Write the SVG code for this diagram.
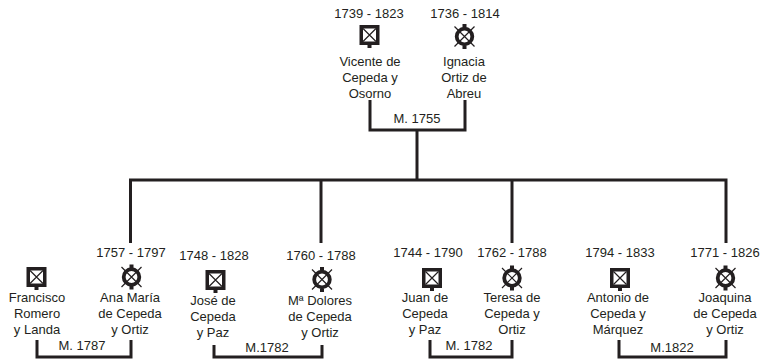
<svg xmlns="http://www.w3.org/2000/svg" xmlns:xlink="http://www.w3.org/1999/xlink" width="761" height="359" viewBox="0 0 761 359">
<style>
text{font-family:"Liberation Sans",Arial,sans-serif;font-size:13px;fill:#231f20;text-anchor:middle}
.ln{fill:none;stroke:#231f20;stroke-width:3;stroke-linejoin:miter}
.sh{fill:#fff;stroke:#231f20;stroke-width:3.5}
.ring{fill:none;stroke:#231f20;stroke-width:3.8}
.x{stroke:#231f20;stroke-width:1.2}
.tab{fill:#231f20}
</style>
<defs>
<g id="male">
<rect class="sh" x="-8.25" y="-8.25" width="16.5" height="16.5"/>
<path class="x" d="M-6.5,-6.5 L6.5,6.5 M6.5,-6.5 L-6.5,6.5"/>
<rect class="tab" x="-2" y="9.5" width="4" height="3.5"/>
</g>
<g id="female">
<path class="x" d="M-10,-10 L10,10 M10,-10 L-10,10"/>
<circle class="ring" r="7.8"/>
<rect class="tab" x="-2" y="-12.5" width="4" height="3.5"/>
<rect class="tab" x="-2" y="9" width="4" height="3.5"/>
</g>
</defs>
<rect width="761" height="359" fill="#fff"/>
<g id="connectors">
<path class="ln" d="M370,100 V130 H465 V100"/>
<path class="ln" d="M417,130 V180"/>
<path class="ln" d="M130.5,243 V180 H726 V243"/>
<path class="ln" d="M321,180 V243"/>
<path class="ln" d="M512,180 V243"/>
<path class="ln" d="M37,340 V357 H131 V340"/>
<path class="ln" d="M214,345 V357 H322 V345"/>
<path class="ln" d="M430,340 V357 H512 V340"/>
<path class="ln" d="M619,340 V357 H726 V340"/>
<text x="417" y="123">M. 1755</text>
<text x="82" y="350">M. 1787</text>
<text x="267" y="352">M.1782</text>
<text x="469" y="350">M. 1782</text>
<text x="672" y="352">M.1822</text>
</g>
<g id="vicente">
<text x="369" y="18">1739 - 1823</text>
<use xlink:href="#male" x="369.5" y="35"/>
<text x="370" y="66">Vicente de</text>
<text x="370" y="82">Cepeda y</text>
<text x="370" y="98">Osorno</text>
</g>
<g id="ignacia">
<text x="465" y="18">1736 - 1814</text>
<use xlink:href="#female" x="464.5" y="36.5"/>
<text x="464" y="66">Ignacia</text>
<text x="464" y="82">Ortiz de</text>
<text x="464" y="98">Abreu</text>
</g>
<g id="francisco">
<use xlink:href="#male" x="36.5" y="277"/>
<text x="37" y="302">Francisco</text>
<text x="37" y="318">Romero</text>
<text x="37" y="334">y Landa</text>
</g>
<g id="ana">
<text x="131" y="257">1757 - 1797</text>
<use xlink:href="#female" x="131.5" y="277"/>
<text x="130" y="302">Ana María</text>
<text x="130" y="318">de Cepeda</text>
<text x="130" y="334">y Ortiz</text>
</g>
<g id="jose">
<text x="214" y="260">1748 - 1828</text>
<use xlink:href="#male" x="215.5" y="280"/>
<text x="213" y="305">José de</text>
<text x="213" y="321">Cepeda</text>
<text x="213" y="337">y Paz</text>
</g>
<g id="dolores">
<text x="321" y="260">1760 - 1788</text>
<use xlink:href="#female" x="322" y="279.5"/>
<text x="320" y="305">Mª Dolores</text>
<text x="320" y="321">de Cepeda</text>
<text x="320" y="337">y Ortiz</text>
</g>
<g id="juan">
<text x="428" y="257">1744 - 1790</text>
<use xlink:href="#male" x="432" y="278"/>
<text x="425" y="302">Juan de</text>
<text x="425" y="318">Cepeda</text>
<text x="425" y="334">y Paz</text>
</g>
<g id="teresa">
<text x="512" y="257">1762 - 1788</text>
<use xlink:href="#female" x="512" y="278"/>
<text x="512" y="302">Teresa de</text>
<text x="512" y="318">Cepeda y</text>
<text x="512" y="334">Ortiz</text>
</g>
<g id="antonio">
<text x="620" y="257">1794 - 1833</text>
<use xlink:href="#male" x="620" y="278"/>
<text x="618" y="302">Antonio de</text>
<text x="618" y="318">Cepeda y</text>
<text x="618" y="334">Márquez</text>
</g>
<g id="joaquina">
<text x="725" y="257">1771 - 1826</text>
<use xlink:href="#female" x="725.5" y="278"/>
<text x="725" y="302">Joaquina</text>
<text x="725" y="318">de Cepeda</text>
<text x="725" y="334">y Ortiz</text>
</g>
</svg>
